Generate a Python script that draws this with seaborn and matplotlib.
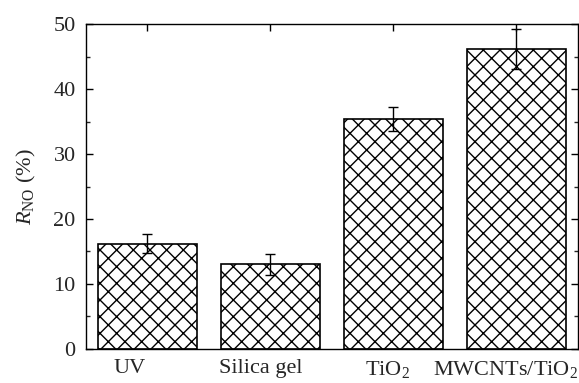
import matplotlib
matplotlib.use("Agg")
import matplotlib.pyplot as plt
import matplotlib.transforms as mtransforms
import seaborn as sns
import pandas as pd
import numpy as np

categories = ["UV", "Silica gel", "TiO$_2$", "MWCNTs/TiO$_2$"]
values = [16.2, 13.0, 35.4, 46.2]
errors = [1.5, 1.6, 1.9, 3.1]
yticks = [0, 10, 20, 30, 40, 50]

# horizontal nudges of the category labels (points), as in the reference
label_shift_pt = [-13, -7, -4, -7.5]

sns.set_theme(style="ticks")
plt.rcParams["font.family"] = ["Liberation Serif", "DejaVu Serif"]
plt.rcParams["mathtext.fontset"] = "custom"
plt.rcParams["mathtext.rm"] = "Liberation Serif"
plt.rcParams["mathtext.it"] = "Liberation Serif:italic"
plt.rcParams["hatch.linewidth"] = 1.0

df = pd.DataFrame({"cat": categories, "val": values})

fig = plt.figure(figsize=(5.79, 3.83), dpi=100)
ax = fig.add_axes([0.1485, 0.0888, 0.8495, 0.8485])

sns.barplot(data=df, x="cat", y="val", ax=ax, color="white", edgecolor="black",
            linewidth=1.2, width=0.8, errorbar=None, saturation=1)
for p in ax.patches:
    p.set_hatch("xx")
    p.set_facecolor("white")

ax.errorbar(np.arange(len(values)), values, yerr=errors, fmt="none", ecolor="black",
            elinewidth=1.0, capsize=3.5, capthick=1.0)

ax.set_xlim(-0.5, 3.5)
ax.set_ylim(0, 50)
ax.set_yticks(yticks)
ax.set_yticks(np.arange(5, 50, 10), minor=True)
ax.set_xlabel("")
ax.set_ylabel(r"$R_{\mathrm{NO}}$ (%)", fontsize=16, labelpad=11)
ax.tick_params(axis="both", which="major", direction="in", length=5, width=1.0,
               labelsize=16, top=True, right=True, color="black")
ax.tick_params(axis="y", which="minor", direction="in", length=3, width=1.0, right=True)
ax.tick_params(axis="y", which="major", pad=7.5)
ax.tick_params(axis="x", which="major", pad=7)
for s in ax.spines.values():
    s.set_linewidth(1.0)
    s.set_color("black")

for lab, dx in zip(ax.get_xticklabels(), label_shift_pt):
    lab.set_transform(lab.get_transform() +
                      mtransforms.ScaledTranslation(dx / 72, 0, fig.dpi_scale_trans))

fig.savefig("out.png", dpi=100)
